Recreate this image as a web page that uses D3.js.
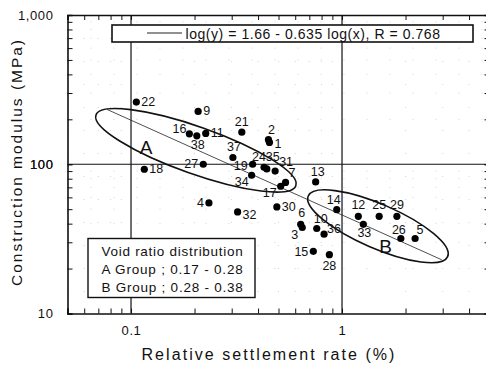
<!DOCTYPE html>
<html>
<head>
<meta charset="utf-8">
<script src="https://cdn.jsdelivr.net/npm/d3@7"></script>
<style>
  body { margin: 0; background: #fff; }
  svg { font-family: "Liberation Sans", Arial, sans-serif; display: block; }
</style>
</head>
<body>
<div id="chart"></div>
<script>
// sample numbers and their measured values
const ids = [1, 2, 3, 4, 5, 6, 7, 9, 10, 11, 12, 13, 14, 15, 16, 17, 18, 19, 21, 22,
             24, 25, 26, 27, 28, 29, 30, 31, 32, 33, 34, 35, 36, 37, 38];
const settlement = [0.453, 0.448, 0.648, 0.234, 2.22, 0.637, 0.540, 0.208, 0.759, 0.226,
                    1.195, 0.750, 0.944, 0.731, 0.189, 0.512, 0.1156, 0.377, 0.335, 0.106,
                    0.427, 1.50, 1.90, 0.220, 0.871, 1.82, 0.491, 0.482, 0.320, 1.262,
                    0.373, 0.440, 0.822, 0.304, 0.205];
const modulus = [140, 146, 37.7, 55.1, 31.8, 39.6, 75.5, 226, 37.1, 161,
                 44.8, 76.1, 49.6, 26.1, 160, 71.2, 92.6, 100, 164, 261,
                 95.5, 44.8, 31.8, 100, 24.8, 44.8, 51.8, 90.0, 47.9, 39.6,
                 84.4, 93.0, 34.0, 111, 155];

// regression: log(y) = 1.66 - 0.635 log(x)
const fitA = 1.66, fitB = -0.635;
const fitRange = [0.077, 2.97];

const xTickLabels = [0.1, 1];
const yTickLabels = [10, 100, 1000];
const legendText = "log(y) = 1.66 - 0.635 log(x), R = 0.768";
const groupText = ["Void ratio distribution", "A Group ; 0.17 - 0.28", "B Group ; 0.28 - 0.38"];

// group ellipses: centre in data units
const groups = [
    { name: "A", cx: 0.203, cy: 124, rx: 106, ry: 23.5, angle: 19.5, lx: 0.118, ly: 118 },
    { name: "B", cx: 1.48, cy: 38.4, rx: 76, ry: 22, angle: 23.5, lx: 1.61, ly: 25.6 }
];

// label offsets [dx, dy, anchor]
const labelPos = {
    1: [5, 6, "start"], 2: [3, -6, "middle"], 3: [-4, 12, "end"], 4: [-5, 4, "end"],
    5: [5, -5, "middle"], 6: [1, -7, "middle"], 7: [3, -5, "start"], 9: [5, 4, "start"],
    10: [4, -6, "middle"], 11: [5, 4, "start"], 12: [0, -7, "middle"], 13: [2, -6, "middle"],
    14: [-3, -6, "middle"], 15: [-5, 5, "end"], 16: [-3, -1, "end"], 17: [-4, 11, "end"],
    18: [5, 4, "start"], 19: [-5, 6, "end"], 21: [0, -6, "middle"], 22: [5, 4, "start"],
    24: [-5, -6, "middle"], 25: [0, -7, "middle"], 26: [-2, -5, "middle"], 27: [-5, 4, "end"],
    28: [0, 15, "middle"], 29: [0, -7, "middle"], 30: [5, 4, "start"], 31: [4, -5, "start"],
    32: [5, 7, "start"], 33: [1, 13, "middle"], 34: [-3, 11, "end"], 35: [6, -8, "middle"],
    36: [3, -1, "start"], 37: [1, -6, "middle"], 38: [1, 13, "middle"]
};

const width = 486, height = 367;
const svg = d3.select("#chart").append("svg")
    .attr("width", width)
    .attr("height", height);

const x = d3.scaleLog().domain([0.05, 5]).range([67.5, 489.5]);
const y = d3.scaleLog().domain([10, 1000]).range([313.5, 15]);

// stretch a text to a measured width with letter spacing
function fitWidth(sel, target) {
    sel.style("letter-spacing", "0px");
    const w = sel.node().getComputedTextLength();
    const n = sel.text().length;
    sel.style("letter-spacing", ((target - w) / n) + "px");
}

const minorX = [], minorY = [];
[0.01, 0.1, 1].forEach(d => { for (let k = 1; k < 10; k++) { const v = +(d * k).toPrecision(3); if (v >= 0.05 && v <= 5) minorX.push(v); } });
[10, 100].forEach(d => { for (let k = 1; k <= 10; k++) minorY.push(d * k); });

// faint dotted minor grid
svg.append("g").selectAll("line")
    .data(minorX.filter(v => !xTickLabels.includes(v)))
    .enter().append("line")
    .attr("x1", d => x(d)).attr("x2", d => x(d))
    .attr("y1", y(1000)).attr("y2", y(10))
    .attr("stroke", "#d4d4d4").attr("stroke-width", 1).attr("stroke-dasharray", "1,22");
svg.append("g").selectAll("line")
    .data(minorY.filter(v => !yTickLabels.includes(v)))
    .enter().append("line")
    .attr("x1", x(0.05)).attr("x2", x(5))
    .attr("y1", d => y(d)).attr("y2", d => y(d))
    .attr("stroke", "#d4d4d4").attr("stroke-width", 1).attr("stroke-dasharray", "1,22");

// major grid
svg.append("g").selectAll("line")
    .data(xTickLabels)
    .enter().append("line")
    .attr("x1", d => x(d)).attr("x2", d => x(d))
    .attr("y1", y(1000)).attr("y2", y(10))
    .attr("stroke", "#111").attr("stroke-width", 1.2);
svg.append("line")
    .attr("x1", x(0.05)).attr("x2", x(5))
    .attr("y1", y(100)).attr("y2", y(100))
    .attr("stroke", "#111").attr("stroke-width", 1.2);

// axes
const fmtY = d3.format(",");
const yAxis = d3.axisLeft(y).tickValues(minorY).tickSize(-5).tickPadding(14)
    .tickFormat(d => yTickLabels.includes(d) ? fmtY(d) : "");
const gy = svg.append("g").attr("transform", `translate(${x(0.05)},0)`).call(yAxis);

const xAxis = d3.axisBottom(x).tickValues(minorX).tickSize(-5).tickPadding(12)
    .tickFormat(d => xTickLabels.includes(d) ? String(d) : "");
const gx = svg.append("g").attr("transform", `translate(0,${y(10)})`).call(xAxis);

svg.append("g").attr("transform", `translate(0,${y(1000)})`)
    .call(d3.axisTop(x).tickValues(minorX).tickSize(-5).tickFormat(""));
svg.append("g").attr("transform", `translate(${x(5)},0)`)
    .call(d3.axisRight(y).tickValues(minorY).tickSize(-5).tickFormat(""));

[gx, gy].forEach(g => {
    g.selectAll("text").attr("fill", "#111").style("font-size", "13px")
        .style("font-family", "'Liberation Sans', Arial, sans-serif")
        .style("letter-spacing", "0.6px");
});
svg.selectAll(".domain").attr("stroke", "#111").attr("stroke-width", 1.6);
svg.selectAll(".tick line").attr("stroke", "#111");

// axis titles
const xTitle = svg.append("text")
    .attr("x", 269).attr("y", 360)
    .attr("text-anchor", "middle")
    .style("font-size", "16px")
    .attr("fill", "#111")
    .text("Relative settlement rate (%)");
fitWidth(xTitle, 255);
const yTitle = svg.append("text")
    .attr("transform", "translate(22,162) rotate(-90)")
    .attr("text-anchor", "middle")
    .style("font-size", "15.5px")
    .attr("fill", "#111")
    .text("Construction modulus (MPa)");
fitWidth(yTitle, 248);

// regression line
const fitLine = d3.line().x(d => x(d)).y(d => y(Math.pow(10, fitA + fitB * Math.log10(d))));
svg.append("path")
    .datum(fitRange)
    .attr("d", fitLine)
    .attr("fill", "none").attr("stroke", "#222").attr("stroke-width", 0.8);

// ellipses
groups.forEach(g => {
    svg.append("ellipse")
        .attr("transform", `translate(${x(g.cx)},${y(g.cy)}) rotate(${g.angle})`)
        .attr("rx", g.rx).attr("ry", g.ry)
        .attr("fill", "none").attr("stroke", "#111").attr("stroke-width", 1.6);
    svg.append("text")
        .attr("x", x(g.lx)).attr("y", y(g.ly))
        .attr("text-anchor", "middle")
        .style("font-size", "19px")
        .attr("fill", "#111")
        .text(g.name);
});

// points
const points = ids.map((id, i) => ({ id: id, x: settlement[i], y: modulus[i] }));
svg.selectAll(".dot")
    .data(points)
    .enter().append("circle")
    .attr("class", "dot")
    .attr("cx", d => x(d.x)).attr("cy", d => y(d.y))
    .attr("r", 3.6)
    .attr("fill", "#000");
svg.selectAll(".lbl")
    .data(points)
    .enter().append("text")
    .attr("class", "lbl")
    .attr("x", d => x(d.x) + labelPos[d.id][0])
    .attr("y", d => y(d.y) + labelPos[d.id][1])
    .attr("text-anchor", d => labelPos[d.id][2])
    .style("font-size", "12.5px")
    .attr("fill", "#111")
    .text(d => d.id);

// equation legend
const eq = svg.append("g");
eq.append("rect")
    .attr("x", 112).attr("y", 25).attr("width", 361).attr("height", 17)
    .attr("fill", "#fff").attr("stroke", "#111").attr("stroke-width", 1.6);
eq.append("line")
    .attr("x1", 147).attr("x2", 182).attr("y1", 33).attr("y2", 33)
    .attr("stroke", "#222").attr("stroke-width", 1);
const eqText = eq.append("text")
    .attr("x", 185.5).attr("y", 38.5)
    .style("font-size", "14px")
    .attr("fill", "#111")
    .text(legendText);
fitWidth(eqText, 255);

// void ratio box
const vb = svg.append("g");
vb.append("rect")
    .attr("x", 88).attr("y", 238.5).attr("width", 167).attr("height", 59)
    .attr("fill", "#fff").attr("stroke", "#111").attr("stroke-width", 1.4);
vb.selectAll("text")
    .data(groupText)
    .enter().append("text")
    .attr("x", 101.5)
    .attr("y", (d, i) => 255.5 + i * 18)
    .style("font-size", "13.5px")
    .attr("fill", "#111")
    .text(d => d)
    .each(function () { fitWidth(d3.select(this), 142); });
</script>
</body>
</html>
